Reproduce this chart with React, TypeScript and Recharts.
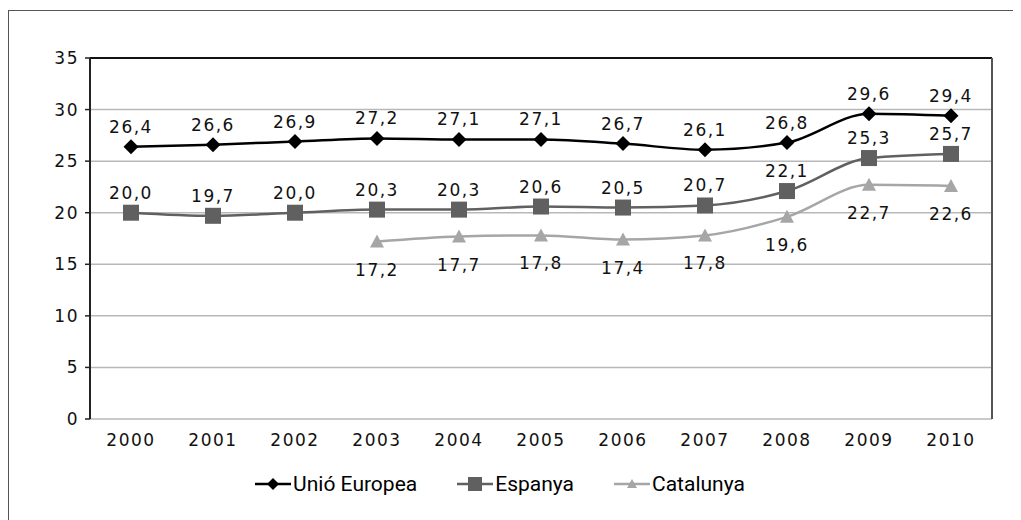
import React from "react";
import {
  LineChart,
  Line,
  XAxis,
  YAxis,
  CartesianGrid,
  Legend,
  LabelList,
  ReferenceLine,
} from "recharts";

const years = ["2000", "2001", "2002", "2003", "2004", "2005", "2006", "2007", "2008", "2009", "2010"];
const uniEuropea = [26.4, 26.6, 26.9, 27.2, 27.1, 27.1, 26.7, 26.1, 26.8, 29.6, 29.4];
const espanya = [20.0, 19.7, 20.0, 20.3, 20.3, 20.6, 20.5, 20.7, 22.1, 25.3, 25.7];
const catalunya = [null, null, null, 17.2, 17.7, 17.8, 17.4, 17.8, 19.6, 22.7, 22.6];
const yTicks = [0, 5, 10, 15, 20, 25, 30, 35];

const data = years.map((y, i) => ({
  i,
  year: y,
  ue: uniEuropea[i],
  es: espanya[i],
  cat: catalunya[i],
}));

const boundaryTicks = years.map((_, i) => i - 0.5).concat([years.length - 0.5]);
const centerTicks = years.map((_, i) => i);

const numFont = "'DejaVu Sans', sans-serif";
const legendFont = "Roboto, 'Noto Sans', sans-serif";
const numStyle = { fill: "#111", fontSize: 17, fontFamily: numFont, letterSpacing: 1.5 };

const fmt = (v: unknown) => (typeof v === "number" ? v.toFixed(1).replace(".", ",") : "");

const Diamond = (props: any) => {
  const { cx, cy } = props;
  if (cx == null || cy == null) return null;
  const r = 7.5;
  return <polygon points={`${cx},${cy - r} ${cx + r},${cy} ${cx},${cy + r} ${cx - r},${cy}`} fill="#000" />;
};

const Square = (props: any) => {
  const { cx, cy } = props;
  if (cx == null || cy == null || props.value == null) return null;
  const s = 8;
  return <rect x={cx - s} y={cy - s} width={s * 2} height={s * 2} fill="#606060" />;
};

const Triangle = (props: any) => {
  const { cx, cy, value } = props;
  if (cx == null || cy == null || value == null) return null;
  const r = 7;
  return <polygon points={`${cx},${cy - r} ${cx + r},${cy + r - 1} ${cx - r},${cy + r - 1}`} fill="#a6a6a6" />;
};

const legendItems = [
  { name: "Unió Europea", color: "#000", shape: "diamond" },
  { name: "Espanya", color: "#606060", shape: "square" },
  { name: "Catalunya", color: "#a6a6a6", shape: "triangle" },
];

const CustomLegend = () => (
  <div style={{ display: "flex", justifyContent: "center", alignItems: "center", gap: 40 }}>
    {legendItems.map((it) => (
      <div key={it.name} style={{ display: "flex", alignItems: "center", fontFamily: legendFont, fontSize: 21, color: "#000" }}>
        <svg width={36} height={20} style={{ marginRight: 2 }}>
          <line x1={0} y1={10} x2={36} y2={10} stroke={it.color} strokeWidth={2.5} />
          {it.shape === "diamond" && <polygon points="18,4 24,10 18,16 12,10" fill={it.color} />}
          {it.shape === "square" && <rect x={11} y={3} width={14} height={14} fill={it.color} />}
          {it.shape === "triangle" && <polygon points="18,5 23,14 13,14" fill={it.color} />}
        </svg>
        <span>{it.name}</span>
      </div>
    ))}
  </div>
);

export default function App() {
  return (
    <div style={{ width: 1013, height: 512, overflow: "hidden", position: "relative" }}>
      <div
        style={{
          position: "absolute",
          left: 0,
          top: 2,
          width: 1040,
          height: 540,
          border: "1px solid #555",
          boxSizing: "border-box",
        }}
      />
      <div style={{ position: "absolute", left: 0, top: 0 }}>
        <LineChart width={1013} height={512} data={data} margin={{ top: 50, right: 29, left: 0, bottom: 18 }}>
          <CartesianGrid vertical={false} stroke="#b8b8b8" strokeWidth={1.5} />
          <XAxis
            xAxisId="marks"
            type="number"
            dataKey="i"
            domain={[-0.5, years.length - 0.5]}
            ticks={boundaryTicks}
            tickFormatter={() => ""}
            height={0}
            axisLine={{ stroke: "#222", strokeWidth: 2 }}
            tickLine={{ stroke: "#222", strokeWidth: 1.5 }}
            tickSize={7}
          />
          <XAxis
            xAxisId="labels"
            type="number"
            dataKey="i"
            domain={[-0.5, years.length - 0.5]}
            ticks={centerTicks}
            tickFormatter={(v) => years[v] ?? ""}
            height={53}
            axisLine={false}
            tickLine={false}
            tickMargin={9}
            interval={0}
            tick={numStyle}
          />
          <YAxis
            domain={[0, 35]}
            ticks={yTicks}
            width={82}
            axisLine={{ stroke: "#222", strokeWidth: 2 }}
            tickLine={{ stroke: "#222", strokeWidth: 1.5 }}
            tickSize={5}
            tickMargin={6}
            tick={numStyle}
          />
          <ReferenceLine xAxisId="marks" y={35} stroke="#111" strokeWidth={2} />
          <ReferenceLine xAxisId="marks" x={years.length - 0.5} stroke="#555" strokeWidth={2} />
          <Legend verticalAlign="bottom" height={30} content={<CustomLegend />} />
          <Line
            xAxisId="marks"
            type="monotone"
            dataKey="ue"
            stroke="#000"
            strokeWidth={2.5}
            dot={<Diamond />}
            activeDot={false}
            isAnimationActive={false}
          >
            <LabelList dataKey="ue" position="top" offset={14} formatter={fmt} style={numStyle} />
          </Line>
          <Line
            xAxisId="marks"
            type="monotone"
            dataKey="es"
            stroke="#606060"
            strokeWidth={2.5}
            dot={<Square />}
            activeDot={false}
            isAnimationActive={false}
          >
            <LabelList dataKey="es" position="top" offset={14} formatter={fmt} style={numStyle} />
          </Line>
          <Line
            xAxisId="marks"
            type="monotone"
            dataKey="cat"
            stroke="#a6a6a6"
            strokeWidth={2.5}
            dot={<Triangle />}
            activeDot={false}
            isAnimationActive={false}
          >
            <LabelList dataKey="cat" position="bottom" offset={22} formatter={fmt} style={numStyle} />
          </Line>
        </LineChart>
      </div>
    </div>
  );
}
